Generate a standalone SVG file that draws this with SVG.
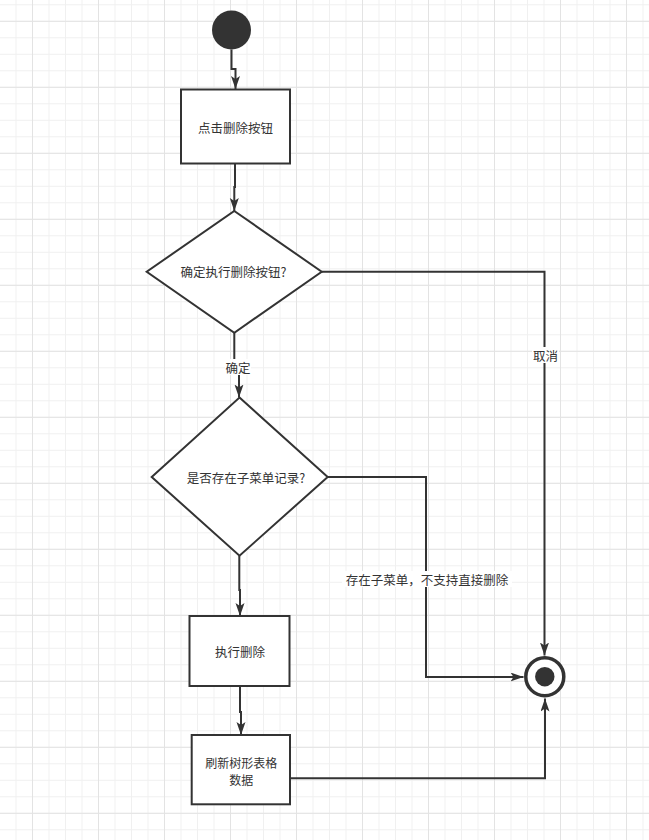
<svg xmlns="http://www.w3.org/2000/svg" width="649" height="840" viewBox="0 0 649 840">
<style>
.node{fill:#ffffff;stroke:#333333;stroke-width:2}
.txt{font-family:"Noto Sans CJK SC","Microsoft YaHei",sans-serif;font-size:12.5px;fill:#333333;text-anchor:middle;dominant-baseline:central}
.small{font-size:12px}
.edge{fill:none;stroke:#333333;stroke-width:2}
.lbl{fill:#ffffff}
</style>
<defs>
<pattern id="minor" patternUnits="userSpaceOnUse" x="-1" y="4.3" width="16.5" height="16.5">
<rect x="0" y="0" width="1" height="16.5" fill="#f0f0f0"/>
<rect x="0" y="0" width="16.5" height="1" fill="#f0f0f0"/>
</pattern>
<pattern id="major" patternUnits="userSpaceOnUse" x="32" y="20.8" width="66" height="66">
<rect x="0" y="0" width="1" height="66" fill="#e3e3e3"/>
<rect x="0" y="0" width="66" height="1" fill="#e3e3e3"/>
</pattern>
<marker id="arr" markerUnits="userSpaceOnUse" markerWidth="14" markerHeight="10" refX="13" refY="4.5" orient="auto">
<path d="M0,0 L13,4.5 L0,9 L3,4.5 Z" fill="#333333"/>
</marker>
</defs>
<rect width="649" height="840" fill="#ffffff"/>
<rect width="649" height="840" fill="url(#minor)"/>
<rect width="649" height="840" fill="url(#major)"/>

<g id="connectors">
<path class="edge" d="M231.5,49.5 V69 H235.5 V89" marker-end="url(#arr)"/>
<path class="edge" d="M235,163 V187 H234.3 V211" marker-end="url(#arr)"/>
<path class="edge" d="M321.7,271.7 H544.5 V655.5" marker-end="url(#arr)"/>
<path class="edge" d="M234.3,332.7 V366 H239 V397.5" marker-end="url(#arr)"/>
<path class="edge" d="M327.7,477 H426 V677 H523.5" marker-end="url(#arr)"/>
<path class="edge" d="M239.3,555.7 V590 H240 V616" marker-end="url(#arr)"/>
<path class="edge" d="M240,686 V712 H241 V735" marker-end="url(#arr)"/>
<path class="edge" d="M290,778.3 H545 V698.5" marker-end="url(#arr)"/>
<rect class="lbl" x="225" y="359" width="26" height="16"/>
<text class="txt" x="238" y="367">确定</text>
<rect class="lbl" x="532" y="347" width="27" height="16"/>
<text class="txt" x="545.5" y="355">取消</text>
<rect class="lbl" x="342" y="571" width="170" height="16"/>
<text class="txt" x="427" y="579">存在子菜单，不支持直接删除</text>
</g>

<g id="start">
<circle cx="231.5" cy="30" r="19.5" fill="#333333"/>
</g>
<g id="btn-click">
<rect class="node" x="181" y="89.5" width="109" height="74"/>
<text class="txt" x="235.5" y="127.5">点击删除按钮</text>
</g>
<g id="decide-confirm">
<path class="node" d="M234.3,211 L321.7,271.7 L234.3,332.7 L146.7,271.7 Z"/>
<text class="txt" x="233.5" y="271.7">确定执行删除按钮?</text>
</g>
<g id="decide-children">
<path class="node" d="M239.5,397.5 L327.7,477 L239.5,555.7 L151.7,477 Z"/>
<text class="txt" x="246" y="477">是否存在子菜单记录?</text>
</g>
<g id="do-delete">
<rect class="node" x="189.5" y="616" width="100" height="70"/>
<text class="txt" x="240" y="651.5">执行删除</text>
</g>
<g id="refresh">
<rect class="node" x="191.7" y="735" width="98.3" height="69.3"/>
<text class="txt small" x="241.3" y="762">刷新树形表格</text>
<text class="txt small" x="241.3" y="779.5">数据</text>
</g>
<g id="end">
<circle cx="544.8" cy="676.7" r="19" fill="#ffffff" stroke="#333333" stroke-width="3.5"/>
<circle cx="544.8" cy="676.7" r="9.7" fill="#333333"/>
</g>
</svg>
